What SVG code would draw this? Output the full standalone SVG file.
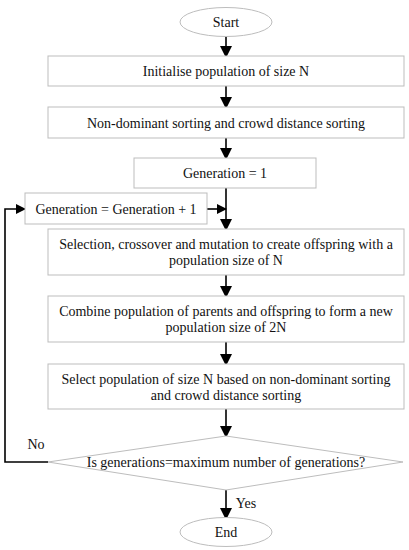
<svg xmlns="http://www.w3.org/2000/svg" width="409" height="550" viewBox="0 0 409 550">
<defs>
<marker id="ah" markerWidth="10" markerHeight="10" refX="9" refY="5" orient="auto" markerUnits="userSpaceOnUse">
<path d="M0,0 L10,5 L0,10 Z" fill="#000"/>
</marker>
<marker id="av" viewBox="0 0 10 12" markerWidth="10" markerHeight="12" refX="10" refY="6" orient="auto" markerUnits="userSpaceOnUse">
<path d="M0,0 L12,6 L0,12 Z" fill="#000"/>
</marker>
</defs>
<style>
.box{fill:#fff;stroke:#bdbdbd;stroke-width:1}
.c{fill:none;stroke:#000;stroke-width:1.6}
text{font-family:'Liberation Serif','Times New Roman',Times,serif;font-size:14px;fill:#111;text-anchor:middle;dominant-baseline:central}
</style>
<rect width="409" height="550" fill="#fff"/>
<g id="connectors">
<line class="c" x1="226" y1="37" x2="226" y2="56" marker-end="url(#av)"/>
<line class="c" x1="226" y1="86" x2="226" y2="107" marker-end="url(#av)"/>
<line class="c" x1="226" y1="138" x2="226" y2="158" marker-end="url(#av)"/>
<line class="c" x1="226" y1="188" x2="226" y2="229" marker-end="url(#av)"/>
<line class="c" x1="207" y1="209" x2="226" y2="209" marker-end="url(#ah)"/>
<line class="c" x1="226" y1="275" x2="226" y2="296" marker-end="url(#av)"/>
<line class="c" x1="226" y1="342" x2="226" y2="364" marker-end="url(#av)"/>
<line class="c" x1="226" y1="409" x2="226" y2="436" marker-end="url(#av)"/>
<line class="c" x1="226" y1="490" x2="226" y2="518" marker-end="url(#av)"/>
<polyline class="c" points="48,462 5,462 5,209 25,209" marker-end="url(#ah)"/>
<text x="36" y="444" font-size="12">No</text>
<text x="246" y="503" font-size="12">Yes</text>
</g>
<g id="start">
<ellipse class="box" cx="226" cy="22" rx="46" ry="14.5"/>
<text x="226" y="22">Start</text>
</g>
<g id="init">
<rect class="box" x="48" y="56" width="356" height="30"/>
<text x="226" y="71">Initialise population of size N</text>
</g>
<g id="sort1">
<rect class="box" x="48" y="107" width="356" height="31"/>
<text x="226" y="123">Non-dominant sorting and crowd distance sorting</text>
</g>
<g id="gen1">
<rect class="box" x="134" y="158" width="182" height="30"/>
<text x="225" y="173">Generation = 1</text>
</g>
<g id="genplus">
<rect class="box" x="25" y="193" width="182" height="31"/>
<text x="116" y="209">Generation = Generation + 1</text>
</g>
<g id="select">
<rect class="box" x="48" y="229" width="356" height="46"/>
<text x="226" y="244">Selection, crossover and mutation to create offspring with a</text>
<text x="226" y="260">population size of N</text>
</g>
<g id="combine">
<rect class="box" x="48" y="296" width="356" height="46"/>
<text x="226" y="311">Combine population of parents and offspring to form a new</text>
<text x="226" y="327">population size of 2N</text>
</g>
<g id="selectN">
<rect class="box" x="48" y="364" width="356" height="45"/>
<text x="226" y="379">Select population of size N based on non-dominant sorting</text>
<text x="226" y="395">and crowd distance sorting</text>
</g>
<g id="decision">
<polygon class="box" points="226,436 403,462 226,490 48,462"/>
<text x="226" y="462">Is generations=maximum number of generations?</text>
</g>
<g id="end">
<ellipse class="box" cx="226" cy="532" rx="46" ry="14.5"/>
<text x="226" y="532">End</text>
</g>
</svg>
